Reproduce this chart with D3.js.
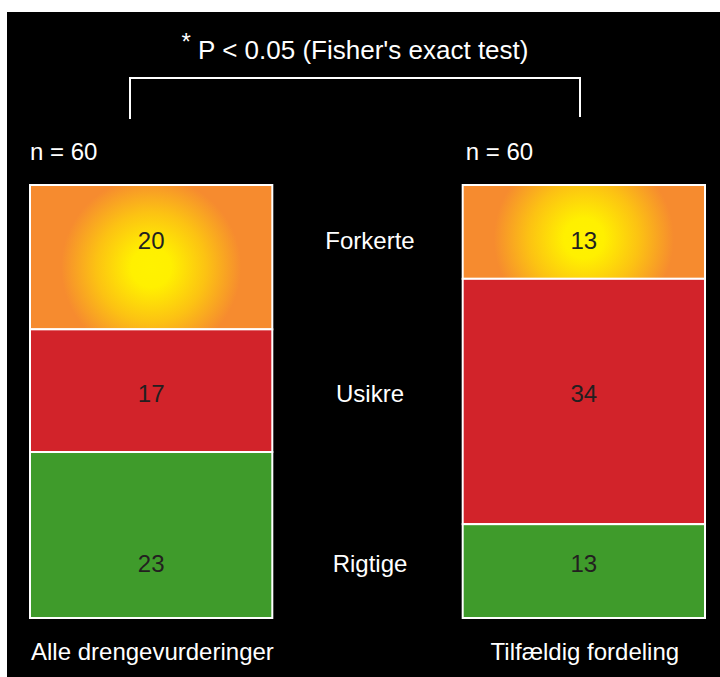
<!DOCTYPE html>
<html><head><meta charset="utf-8">
<script src="https://cdn.jsdelivr.net/npm/d3@7"></script>
<style>body{margin:0;background:#fff}svg{display:block}</style>
</head><body>
<script>
// Data
const groups = ["Alle drengevurderinger", "Tilfældig fordeling"];
const categories = ["Forkerte", "Usikre", "Rigtige"];
const forkerte = [20, 13];
const usikre = [17, 34];
const rigtige = [23, 13];
const totals = [60, 60];
const title = "P < 0.05 (Fisher's exact test)";

const W = 720, H = 677;
const svg = d3.select("body").append("svg").attr("width", W).attr("height", H);
const font = "'Liberation Sans', Arial, sans-serif";

svg.append("rect").attr("x", 7).attr("y", 12).attr("width", W - 7).attr("height", H - 12).attr("fill", "#000");

const defs = svg.append("defs");

const x = d3.scaleBand().domain(groups).range([30, 705]).paddingInner(0.44).paddingOuter(0);
const y = d3.scaleLinear().domain([0, 60]).range([618, 185]);

const series = [forkerte, usikre, rigtige];
const solid = [null, "#d2232a", "#3f9b2b"];
const labelRows = [240, 393, 563];

const stackData = groups.map((g, gi) => {
  let cum = totals[gi];
  return categories.map((c, ci) => {
    const v = series[ci][gi];
    const top = cum; cum -= v;
    return { g, gi, ci, v, y0: cum, y1: top };
  });
});

const gBars = svg.append("g");
stackData.forEach(arr => {
  arr.forEach(d => {
    const rx = x(d.g), rw = x.bandwidth(), ry = y(d.y1), rh = y(d.y0) - y(d.y1);
    let fill = solid[d.ci];
    if (d.ci === 0) {
      const id = "orangeGrad" + d.gi;
      const gr = defs.append("radialGradient").attr("id", id).attr("gradientUnits", "userSpaceOnUse")
        .attr("cx", rx + rw / 2).attr("cy", ry + rh * 0.57).attr("r", 100)
        .attr("fx", rx + rw / 2).attr("fy", ry + rh * 0.57);
      gr.append("stop").attr("offset", 0).attr("stop-color", "#fff200");
      gr.append("stop").attr("offset", 0.2).attr("stop-color", "#fff000");
      gr.append("stop").attr("offset", 0.55).attr("stop-color", "#fcc213");
      gr.append("stop").attr("offset", 0.9).attr("stop-color", "#f68b2f");
      gr.append("stop").attr("offset", 1).attr("stop-color", "#f68b2f");
      fill = "url(#" + id + ")";
    }
    gBars.append("rect")
      .attr("x", rx).attr("width", rw).attr("y", ry).attr("height", rh)
      .attr("fill", fill).attr("stroke", "#fff").attr("stroke-width", 2);
    gBars.append("text")
      .attr("x", rx + rw / 2).attr("y", labelRows[d.ci])
      .attr("text-anchor", "middle").attr("dominant-baseline", "central")
      .attr("font-family", font).attr("font-size", 24).attr("fill", "#231f20")
      .text(d.v);
  });
});

// category labels in the middle
categories.forEach((c, i) => {
  svg.append("text").attr("x", 370).attr("y", labelRows[i])
    .attr("text-anchor", "middle").attr("dominant-baseline", "central")
    .attr("font-family", font).attr("font-size", 24).attr("fill", "#fff").text(c);
});

// n labels
groups.forEach((g, i) => {
  svg.append("text").attr("x", x(g) + (i === 0 ? 0 : 3)).attr("y", 160)
    .attr("font-family", font).attr("font-size", 24).attr("fill", "#fff")
    .text("n = " + totals[i]);
});

// group labels
svg.append("text").attr("x", 31).attr("y", 660).attr("font-family", font).attr("font-size", 24)
  .attr("fill", "#fff").text(groups[0]);
svg.append("text").attr("x", x(groups[1]) + x.bandwidth() / 2 + 1).attr("y", 660).attr("text-anchor", "middle")
  .attr("font-family", font).attr("font-size", 24).attr("fill", "#fff").text(groups[1]);

// bracket
svg.append("path").attr("d", "M130,119 V78 H580 V117").attr("fill", "none").attr("stroke", "#fff").attr("stroke-width", 2);

// title
const t = svg.append("text").attr("x", 355).attr("y", 59).attr("text-anchor", "middle")
  .attr("font-family", font).attr("font-size", 26).attr("fill", "#fff");
t.append("tspan").attr("font-size", 24).attr("dy", -9).text("*");
t.append("tspan").attr("dy", 9).text(" " + title);
</script>
</body></html>
